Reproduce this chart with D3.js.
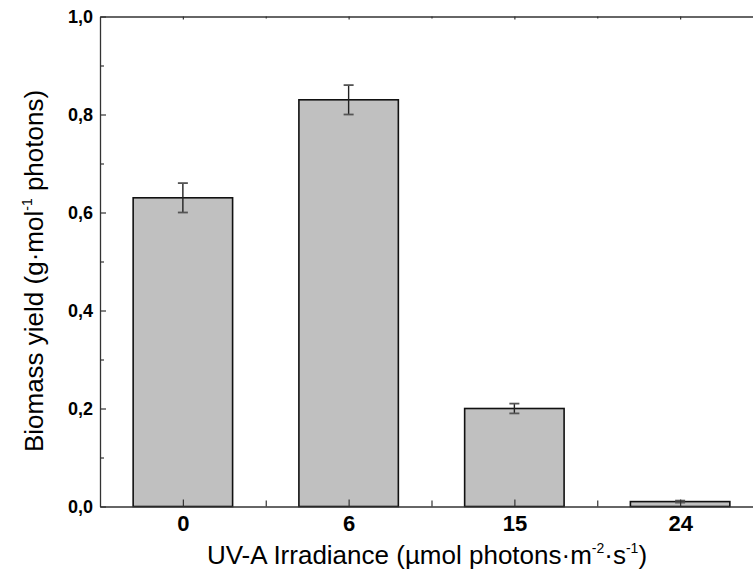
<!DOCTYPE html>
<html>
<head>
<meta charset="utf-8">
<script src="https://cdn.jsdelivr.net/npm/d3@7"></script>
<style>
  html, body { margin: 0; padding: 0; background: #fff; }
  svg { display: block; font-family: "Liberation Sans", Arial, Helvetica, sans-serif; }
</style>
</head>
<body>
<svg id="chart" width="753" height="579"></svg>
<script>
// UV-A irradiance levels (µmol photons·m-2·s-1) and biomass yield
const categories = ["0", "6", "15", "24"];
const yieldValues = [0.63, 0.83, 0.20, 0.01];
const yieldErrors = [0.03, 0.03, 0.01, 0.002];
const yTicks = [0.0, 0.2, 0.4, 0.6, 0.8, 1.0];
const yMinorTicks = [0.1, 0.3, 0.5, 0.7, 0.9];

const svg = d3.select("#chart");
const plotLeft = 100, plotRight = 763, plotTop = 16.5, plotBottom = 506.5;

const x = d3.scalePoint().domain(categories).range([plotLeft, plotRight]).padding(0.5);
const step = x.step();
const barWidth = step * 0.6;
const y = d3.scaleLinear().domain([0, 1]).range([plotBottom, plotTop]);

const fmt = v => d3.format(".1f")(v).replace(".", ",");

// bars
svg.append("g").selectAll("rect")
  .data(categories)
  .join("rect")
  .attr("x", (d) => x(d) - barWidth / 2)
  .attr("y", (d, i) => y(yieldValues[i]))
  .attr("width", barWidth)
  .attr("height", (d, i) => y(0) - y(yieldValues[i]))
  .attr("fill", "#c0c0c0")
  .attr("stroke", "#111")
  .attr("stroke-width", 1.6);

// error bars
const eg = svg.append("g").selectAll("g").data(categories).join("g");
eg.append("line")
  .attr("x1", d => x(d)).attr("x2", d => x(d))
  .attr("y1", (d, i) => y(yieldValues[i] + yieldErrors[i]))
  .attr("y2", (d, i) => y(yieldValues[i] - yieldErrors[i]))
  .attr("stroke", "#222").attr("stroke-width", 1.4);
[1, -1].forEach(s => {
  eg.append("line")
    .attr("x1", d => x(d) - 5).attr("x2", d => x(d) + 5)
    .attr("y1", (d, i) => y(yieldValues[i] + s * yieldErrors[i]))
    .attr("y2", (d, i) => y(yieldValues[i] + s * yieldErrors[i]))
    .attr("stroke", "#555").attr("stroke-width", 1.8);
});

const axisColor = "#333";
function styleAxis(g) {
  g.selectAll(".domain").attr("stroke", axisColor).attr("stroke-width", 1.3);
  g.selectAll(".tick line").attr("stroke", axisColor).attr("stroke-width", 1.2);
}

// left axis, ticks pointing inward
const yAxis = svg.append("g")
  .attr("transform", `translate(${plotLeft},0)`)
  .call(d3.axisLeft(y).tickValues(yTicks).tickFormat(fmt).tickSize(-6).tickSizeOuter(0).tickPadding(7));
styleAxis(yAxis);
yAxis.selectAll("text")
  .attr("font-size", 18).attr("font-weight", "bold").attr("fill", "#000")
  .attr("font-family", "'Liberation Sans', Arial, sans-serif");
const yMinor = svg.append("g")
  .attr("transform", `translate(${plotLeft},0)`)
  .call(d3.axisLeft(y).tickValues(yMinorTicks).tickFormat("").tickSize(-4).tickSizeOuter(0));
styleAxis(yMinor);
yMinor.select(".domain").remove();

// bottom axis
const mids = d3.pairs(categories).map(([a, b]) => (x(a) + x(b)) / 2);
const xAxis = svg.append("g")
  .attr("transform", `translate(0,${plotBottom})`)
  .call(d3.axisBottom(x).tickSize(-7).tickSizeOuter(0).tickPadding(9));
styleAxis(xAxis);
xAxis.selectAll("text")
  .attr("font-size", 22).attr("font-weight", "bold").attr("fill", "#000")
  .attr("font-family", "'Liberation Sans', Arial, sans-serif");
const xMinorScale = d3.scaleLinear().domain([plotLeft, plotRight]).range([plotLeft, plotRight]);
const xMinor = svg.append("g")
  .attr("transform", `translate(0,${plotBottom})`)
  .call(d3.axisBottom(xMinorScale).tickValues(mids).tickFormat("").tickSize(-6).tickSizeOuter(0));
styleAxis(xMinor);
xMinor.select(".domain").remove();

// top frame line with small inward ticks
const xTop = svg.append("g")
  .attr("transform", `translate(0,${plotTop})`)
  .call(d3.axisTop(x).tickFormat("").tickSize(-3).tickSizeOuter(0));
styleAxis(xTop);
const xTopMinor = svg.append("g")
  .attr("transform", `translate(0,${plotTop})`)
  .call(d3.axisTop(xMinorScale).tickValues(mids).tickFormat("").tickSize(-2).tickSizeOuter(0));
styleAxis(xTopMinor);
xTopMinor.select(".domain").remove();

// axis titles
const xt = svg.append("text")
  .attr("x", 427).attr("y", 564)
  .attr("text-anchor", "middle")
  .attr("font-size", 26).attr("fill", "#000")
  .attr("font-family", "'Liberation Sans', Arial, sans-serif");
xt.append("tspan").text("UV-A Irradiance (µmol photons·m");
xt.append("tspan").attr("dy", -11).attr("font-size", 14).text("-2");
xt.append("tspan").attr("dy", 11).text("·s");
xt.append("tspan").attr("dy", -11).attr("font-size", 14).text("-1");
xt.append("tspan").attr("dy", 11).text(")");

const yt = svg.append("text")
  .attr("transform", "translate(43,271) rotate(-90)")
  .attr("text-anchor", "middle")
  .attr("font-size", 26).attr("fill", "#000")
  .attr("font-family", "'Liberation Sans', Arial, sans-serif");
yt.append("tspan").text("Biomass yield (g·mol");
yt.append("tspan").attr("dy", -11).attr("font-size", 14).text("-1");
yt.append("tspan").attr("dy", 11).text("  photons)");
</script>
</body>
</html>
